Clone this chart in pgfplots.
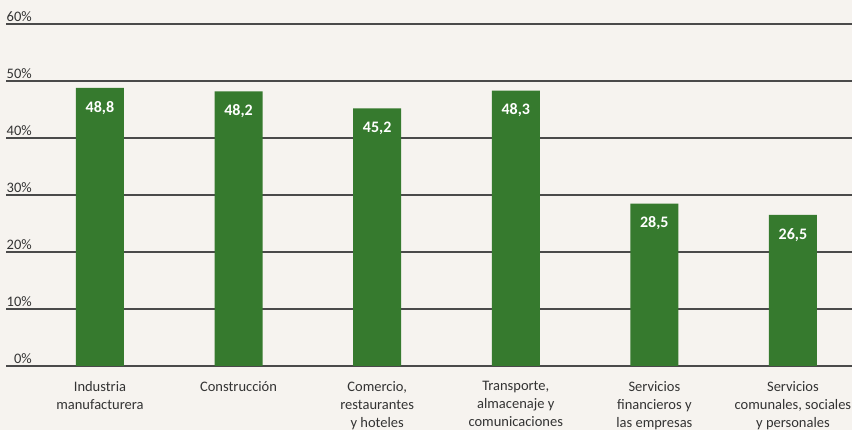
\documentclass[border=0pt]{standalone}
\usepackage{pgfplots}
\pgfplotsset{compat=1.18}
\usepackage{fontspec}
\setmainfont{Carlito}
\definecolor{bg}{HTML}{F6F3EF}
\definecolor{barg}{HTML}{367A2E}
\definecolor{gridc}{HTML}{4A4A4A}
\definecolor{txt}{HTML}{333333}

\begin{document}
\begin{tikzpicture}[x=1pt,y=1pt]
\fill[bg] (0,0) rectangle (852,430);
\useasboundingbox (0,0) rectangle (852,430);
\begin{axis}[
  at={(6pt,64pt)}, anchor=south west,
  scale only axis, width=846pt, height=342pt,
  xmin=-0.678, xmax=5.426, ymin=0, ymax=60,
  /pgf/number format/assume math mode=true,
  axis line style={draw=none},
  major tick length=0pt,
  ytick={0,10,...,60},
  yticklabel={\pgfmathprintnumber{\tick}\%},
  yticklabel style={anchor=south east, xshift=27pt, yshift=1pt, inner sep=1pt,
    font=\fontsize{14.5}{16}\selectfont, text=txt},
  ymajorgrids, grid style={gridc, line width=1.2pt},
  xtick={0,...,5},
  xticklabels={{Industria\\manufacturera},{Construcción},{Comercio,\\restaurantes\\y hoteles},
    {Transporte,\\almacenaje y\\comunicaciones},{Servicios\\financieros y\\las empresas},
    {Servicios\\comunales, sociales\\y personales}},
  xticklabel style={align=center, anchor=north, inner sep=0pt, yshift=-15pt,
    font=\fontsize{14.5}{18}\selectfont, text=txt},
]
\addplot[ybar, fill=barg, draw=none, bar width=48pt,
  nodes near coords, point meta=explicit symbolic,
  nodes near coords style={anchor=north, inner sep=0pt, yshift=-13pt,
    font=\fontsize{16}{18}\selectfont\bfseries, text=white}]
  table[meta=label] {
x y label
0 48.8 48,8
1 48.2 48,2
2 45.2 45,2
3 48.3 48,3
4 28.5 28,5
5 26.5 26,5
};
\end{axis}
\end{tikzpicture}
\end{document}
